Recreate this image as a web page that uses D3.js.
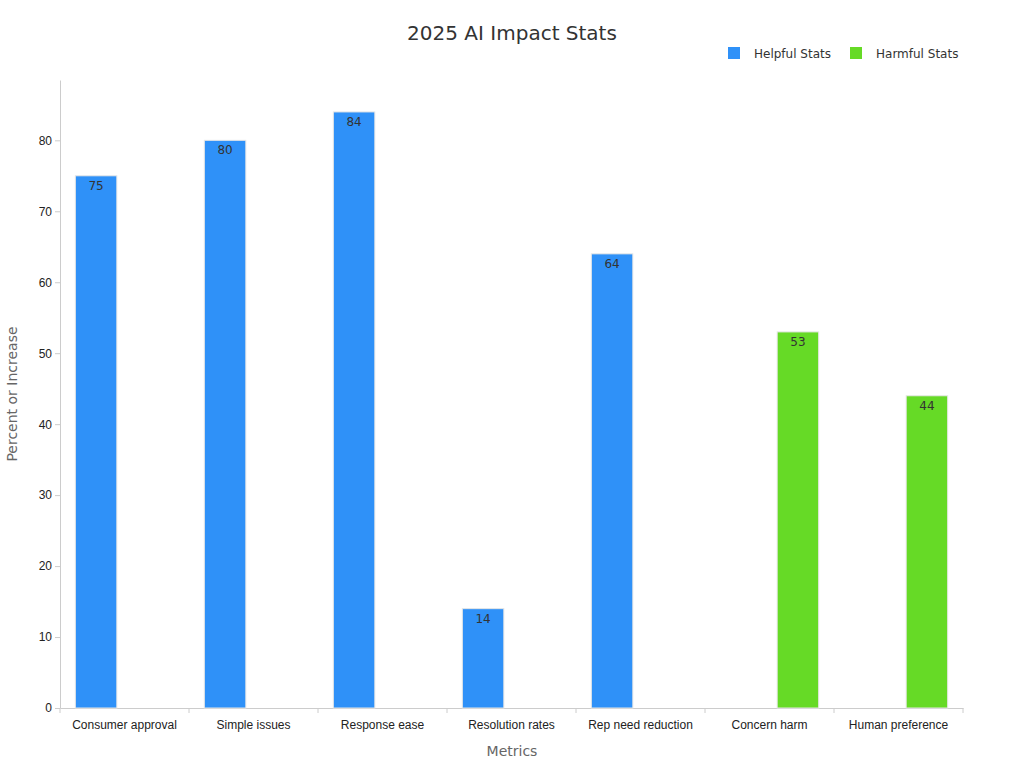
<!DOCTYPE html><html><head><meta charset="utf-8"><script src="https://cdn.jsdelivr.net/npm/d3@7"></script>
<style>body{margin:0;background:#fff;font-family:"DejaVu Sans",sans-serif}</style></head><body><svg id="c" width="1024" height="768"></svg>
<script>
const categories=["Consumer approval","Simple issues","Response ease","Resolution rates","Rep need reduction","Concern harm","Human preference"];
const helpful=[75,80,84,14,64,null,null];
const harmful=[null,null,null,null,null,53,44];
const seriesNames=["Helpful Stats","Harmful Stats"];
const colors=["#2f91f8","#66da26"];
const yTicks=[0,10,20,30,40,50,60,70,80];
const svg=d3.select("#c");
const m={l:60,r:963,t:80,b:708};
const x=d3.scaleBand().domain(categories).range([m.l,m.r]);
const y=d3.scaleLinear().domain([0,88.5]).range([m.b,m.t]);
const inner=d3.scaleBand().domain([0,1]).range([0,x.bandwidth()]).paddingInner(0.27).paddingOuter(0.27);
svg.append("text").attr("x",512).attr("y",40).attr("text-anchor","middle").attr("font-size",20).attr("fill","#333").text("2025 AI Impact Stats");
const ya=svg.append("g").attr("transform",`translate(${m.l},0)`).call(d3.axisLeft(y).tickValues(yTicks).tickSize(5).tickSizeOuter(0));
const xa=svg.append("g").attr("transform",`translate(0,${m.b})`).call(d3.axisBottom(x).tickSize(5).tickSizeOuter(0));
[ya,xa].forEach(a=>{a.selectAll("path,line").attr("stroke","#ccc");a.selectAll("text").attr("fill","#222").attr("font-size",12);});
xa.selectAll(".tick line").attr("x1",-x.bandwidth()/2).attr("x2",-x.bandwidth()/2);
xa.append("line").attr("x1",m.r).attr("x2",m.r).attr("y2",5).attr("stroke","#ccc");
xa.selectAll(".tick text").attr("dy","1.1em");
[helpful,harmful].forEach((vals,si)=>{
  const g=svg.append("g");
  categories.forEach((c,i)=>{
    const v=vals[i]; if(v==null)return;
    const bx=x(c)+inner(si);
    g.append("rect").attr("x",bx).attr("y",y(v)).attr("width",inner.bandwidth()).attr("height",y(0)-y(v)).attr("fill",colors[si]).attr("stroke","#e6e6e6").attr("stroke-width",1);
    g.append("text").attr("x",bx+inner.bandwidth()/2).attr("y",y(v)+14).attr("text-anchor","middle").attr("font-size",12).attr("fill","#333").text(v);
  });
});
svg.append("text").attr("x",512).attr("y",756).attr("text-anchor","middle").attr("font-size",14).attr("fill","#666").text("Metrics");
svg.append("text").attr("transform","translate(17,394) rotate(-90)").attr("text-anchor","middle").attr("font-size",14).attr("fill","#666").text("Percent or Increase");
const lx=[728,850];
seriesNames.forEach((n,i)=>{
  svg.append("rect").attr("x",lx[i]).attr("y",47).attr("width",12).attr("height",12).attr("fill",colors[i]);
  svg.append("text").attr("x",lx[i]+26).attr("y",58).attr("font-size",12).attr("fill","#333").text(n);
});
</script></body></html>
